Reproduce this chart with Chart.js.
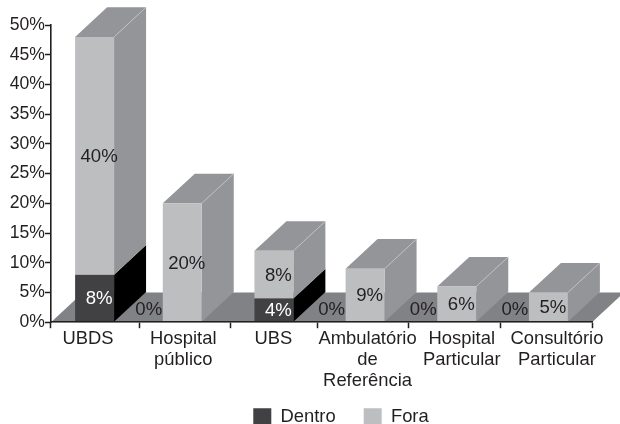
<!DOCTYPE html>
<html><head><meta charset="utf-8">
<style>html,body{margin:0;padding:0;background:#fff;overflow:hidden}canvas{display:block}</style>
<script src="https://cdn.jsdelivr.net/npm/chart.js@4"></script>
</head><body><canvas id="c" width="620" height="424"></canvas>
<script>
const categories = ['UBDS', ['Hospital','público'], 'UBS', ['Ambulatório','de','Referência'], ['Hospital','Particular'], ['Consultório','Particular']];
const dentro = [8, 0, 4, 0, 0, 0];
const fora = [40, 20, 8, 9, 6, 5];
const yTicksMax = 50, yTickStep = 5;

const INK = '#231f20', FRONT_D = '#414042', FRONT_L = '#bcbec0', SIDE = '#939598', FLOOR = '#808285';
const DX = 32, DY = 29.6;
const BAR_NUDGE = [-1.5, -4, -2.5, -1.5, 0, 1.5];
const LABEL_NUDGE = [-8, -3, -3, 1, 5, 10];
const TICK_NUDGE = [0, -2, -1, -4, -3, -1, 0];
const LEGEND_DX = 45, LEGEND_TOP = 380;

const depth = {
  id: 'depth',
  afterLayout(chart) {
    const l = chart.legend;
    l.left += LEGEND_DX; l.right += LEGEND_DX;
    l.top = LEGEND_TOP; l.bottom = LEGEND_TOP + l.height;
  },
  afterDatasetsUpdate(chart) {
    chart.data.datasets.forEach((d, i) => {
      chart.getDatasetMeta(i).data.forEach((b, j) => { b.x += BAR_NUDGE[j]; });
    });
  },
  beforeDraw(chart) {
    const s = chart.scales.x;
    const g = s._computeGridLineItems(chart.chartArea);
    g.forEach((it, i) => { it.tx1 += TICK_NUDGE[i] || 0; it.tx2 += TICK_NUDGE[i] || 0; });
    s._gridLineItems = g;
    s.getLabelItems(chart.chartArea).forEach((it, i) => {
      it.options.translation[0] = s.getPixelForTick(i) + LABEL_NUDGE[i];
    });
  },
  beforeDatasetsDraw(chart) {
    const { ctx, chartArea: a } = chart;
    ctx.save();
    ctx.fillStyle = FLOOR;
    ctx.beginPath();
    ctx.moveTo(a.left, a.bottom);
    ctx.lineTo(a.left + DX, a.bottom - DY);
    ctx.lineTo(a.right + DX, a.bottom - DY);
    ctx.lineTo(a.right, a.bottom);
    ctx.closePath();
    ctx.fill();
    const poly = (pts, fill) => {
      ctx.fillStyle = fill;
      ctx.beginPath();
      pts.forEach((p, i) => i ? ctx.lineTo(p[0], p[1]) : ctx.moveTo(p[0], p[1]));
      ctx.closePath();
      ctx.fill();
    };
    const sideColors = ['#000000', SIDE];
    categories.forEach((c, j) => {
      let top = null;
      chart.data.datasets.forEach((d, i) => {
        const b = chart.getDatasetMeta(i).data[j];
        const r = b.x + b.width / 2;
        if (d.data[j] > 0) {
          poly([[r, b.base], [r + DX, b.base - DY], [r + DX, b.y - DY], [r, b.y]], sideColors[i]);
          top = b;
        }
      });
      if (top) {
        const l = top.x - top.width / 2, r = top.x + top.width / 2, y = top.y;
        poly([[l, y], [l + DX, y - DY], [r + DX, y - DY], [r, y]], SIDE);
        ctx.strokeStyle = '#c4c6c8';
        ctx.lineWidth = 0.7;
        ctx.beginPath();
        ctx.moveTo(r, y);
        ctx.lineTo(r + DX, y - DY);
        ctx.stroke();
      }
    });
    ctx.restore();
  },
  afterDatasetsDraw(chart) {
    const { ctx } = chart;
    ctx.save();
    ctx.font = '18.6px "Liberation Sans"';
    ctx.textAlign = 'center';
    ctx.textBaseline = 'middle';
    chart.data.datasets.forEach((d, i) => {
      chart.getDatasetMeta(i).data.forEach((b, j) => {
        const v = d.data[j];
        if (i === 0 && v === 0) {
          ctx.fillStyle = INK;
          ctx.fillText(v + '%', b.x - 33.5, b.base - 12);
        } else if (v > 0) {
          ctx.fillStyle = i === 0 ? '#ffffff' : INK;
          ctx.fillText(v + '%', b.x + 4.5, (b.y + b.base) / 2 + 1);
        }
      });
    });
    ctx.restore();
  }
};

new Chart(document.getElementById('c'), {
  type: 'bar',
  data: {
    labels: categories,
    datasets: [
      { label: 'Dentro', data: dentro, backgroundColor: FRONT_D, borderWidth: 0 },
      { label: 'Fora', data: fora, backgroundColor: FRONT_L, borderWidth: 0 }
    ]
  },
  options: {
    responsive: false,
    animation: false,
    events: [],
    datasets: { bar: { categoryPercentage: 1, barPercentage: 0.432 } },
    layout: { padding: { top: 25, right: 28, left: 0, bottom: -57 } },
    plugins: {
      tooltip: { enabled: false },
      legend: {
        position: 'bottom',
        labels: { boxWidth: 18, boxHeight: 18, padding: 28, color: INK, font: { family: '"Liberation Sans"', size: 18.4 } }
      }
    },
    scales: {
      x: {
        stacked: true,
        afterFit(s) { s.height = 424 - 321 + s.chart.legend.height + s.chart.options.layout.padding.bottom; },
        grid: { display: true, offset: true, drawOnChartArea: false, tickLength: 6, tickWidth: 1.5, tickColor: INK, z: 1 },
        border: { color: INK, width: 1.6, z: 1 },
        ticks: { autoSkip: false, maxRotation: 0, minRotation: 0, padding: 0, color: INK, z: 1,
                 font: { family: '"Liberation Sans"', size: 18.4, lineHeight: 1.15 } }
      },
      y: {
        stacked: true,
        min: 0,
        max: yTicksMax,
        afterFit(s) { s.width = 51; },
        grid: { display: true, drawOnChartArea: false, tickLength: 6, tickWidth: 1.5, tickColor: INK, z: 1 },
        border: { color: INK, width: 1.6, z: 1 },
        ticks: { stepSize: yTickStep, padding: 0, color: INK, z: 1, callback: v => v + '%',
                 font: { family: '"Liberation Sans"', size: 17.6 } }
      }
    }
  },
  plugins: [depth]
});
</script></body></html>
